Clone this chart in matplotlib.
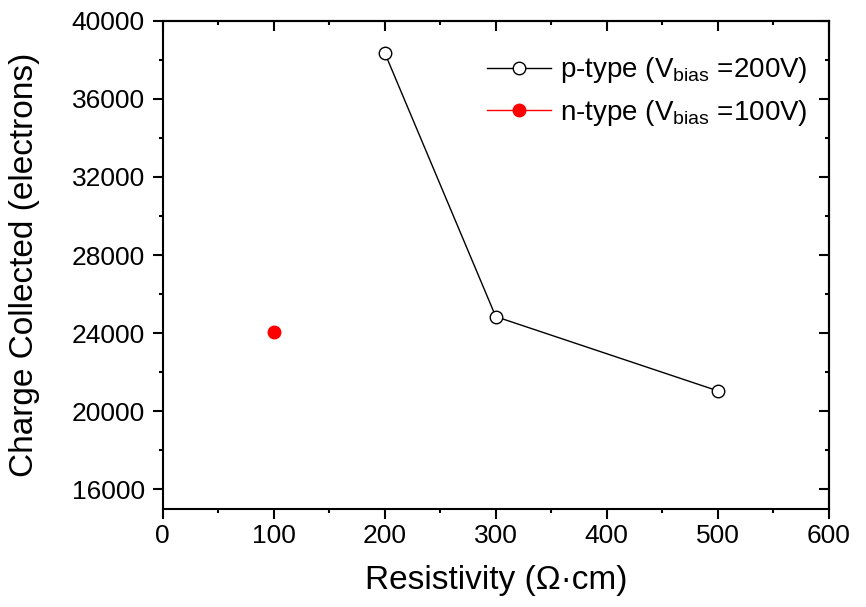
import matplotlib
matplotlib.use("Agg")
import matplotlib.pyplot as plt
from matplotlib.ticker import MultipleLocator
from matplotlib import font_manager

plt.rcParams['font.family'] = ['Liberation Sans', 'DejaVu Sans']
plt.rcParams['mathtext.fontset'] = 'custom'
plt.rcParams['mathtext.rm'] = 'Liberation Sans'
plt.rcParams['mathtext.it'] = 'Liberation Sans'

p_x = [200, 300, 500]
p_y = [38350, 24850, 21050]
n_x = [100]
n_y = [24050]
p_label = r'p-type (V$_{\mathregular{bias}}$ =200V)'
n_label = r'n-type (V$_{\mathregular{bias}}$ =100V)'
xlabel = 'Resistivity (Ω·cm)'
ylabel = 'Charge Collected (electrons)'

names = {f.name for f in font_manager.fontManager.ttflist}
xtick_family = 'Liberation Sans Narrow' if 'Liberation Sans Narrow' in names else 'Liberation Sans'

fig = plt.figure(figsize=(8.66, 6.07), dpi=100)
ax = fig.add_axes([0.188, 0.1614, 0.769, 0.8045])

ax.plot(p_x, p_y, color='black', lw=1, marker='o', ms=9, mfc='white',
        mec='black', mew=1, label=p_label)
ax.plot(n_x, n_y, color='red', lw=1, marker='o', ms=9, mfc='red',
        mec='red', linestyle='-', label=n_label)

ax.set_xlim(0, 600)
ax.set_ylim(15000, 40000)
ax.xaxis.set_major_locator(MultipleLocator(100))
ax.xaxis.set_minor_locator(MultipleLocator(50))
ax.yaxis.set_major_locator(MultipleLocator(4000))
ax.yaxis.set_minor_locator(MultipleLocator(2000))
ax.tick_params(which='major', direction='out', length=7, width=1.5)
ax.tick_params(which='minor', direction='out', length=3.2, width=1.5)
ax.tick_params(axis='y', which='major', labelsize=19, pad=6)
ax.tick_params(axis='x', which='major', labelsize=19, pad=4)
for lab in ax.get_xticklabels():
    lab.set_family(xtick_family)
for s in ax.spines.values():
    s.set_linewidth(1.5)

sx = ax.secondary_xaxis('top')
sx.xaxis.set_major_locator(MultipleLocator(100))
sx.xaxis.set_minor_locator(MultipleLocator(50))
sx.tick_params(which='major', direction='in', length=7, width=1.5, labeltop=False)
sx.tick_params(which='minor', direction='in', length=3.2, width=1.5)
sx.spines['top'].set_linewidth(1.5)
sy = ax.secondary_yaxis('right')
sy.yaxis.set_major_locator(MultipleLocator(4000))
sy.yaxis.set_minor_locator(MultipleLocator(2000))
sy.tick_params(which='major', direction='in', length=7, width=1.5, labelright=False)
sy.tick_params(which='minor', direction='in', length=3.2, width=1.5)
sy.spines['right'].set_linewidth(1.5)

ax.set_xlabel(xlabel, fontsize=24, labelpad=12)
ax.set_ylabel(ylabel, fontsize=24, labelpad=23)

ax.legend(loc='upper right', frameon=False, fontsize=20, handlelength=2.3,
          handletextpad=0.3, labelspacing=0.45, bbox_to_anchor=(1.005, 0.98))

fig.savefig('out.png', dpi=100)
